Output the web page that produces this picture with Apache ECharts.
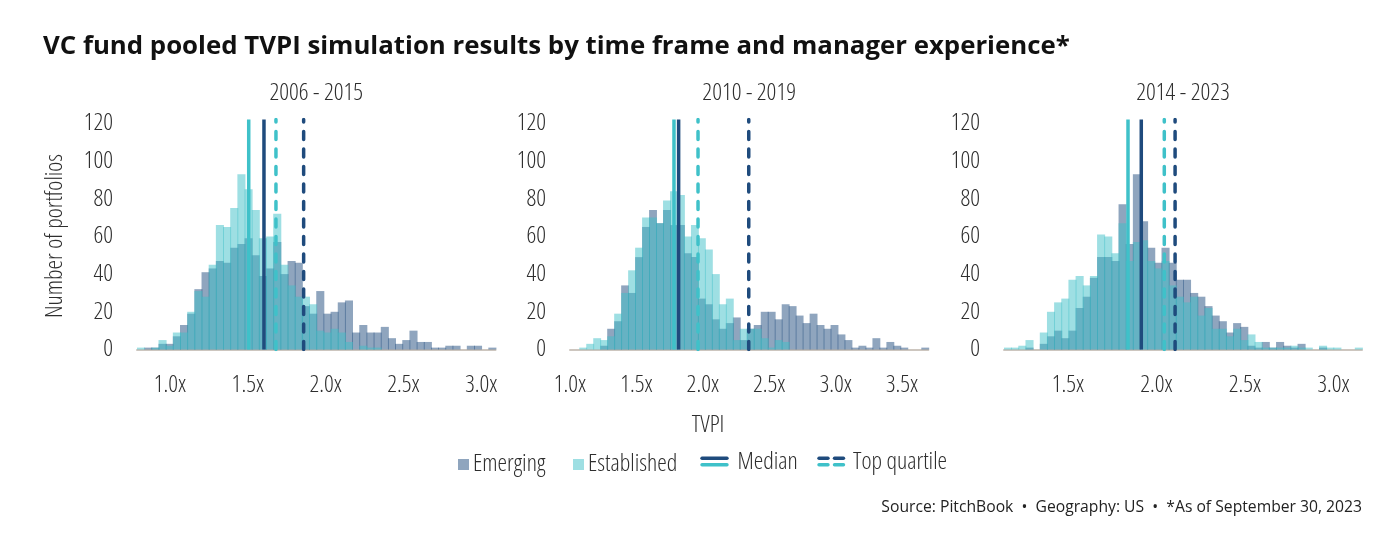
<!DOCTYPE html>
<html>
<head>
<meta charset="utf-8">
<script src="https://cdn.jsdelivr.net/npm/echarts@6/dist/echarts.min.js"></script>
<style>
html,body{margin:0;padding:0;background:#fff;}
#chart{width:1400px;height:548px;}
</style>
</head>
<body>
<div id="chart"></div>
<script>
// ---------- data ----------
const chartTitle = 'VC fund pooled TVPI simulation results by time frame and manager experience*';
const panelTitles = ['2006 - 2015', '2010 - 2019', '2014 - 2023'];
const sourceText = 'Source: PitchBook  \u2022  Geography: US  \u2022  *As of September 30, 2023';
const seriesNames = ['Emerging', 'Established', 'Median', 'Top quartile'];
const yAxisName = 'Number of portfolios';
const xAxisName = 'TVPI';
const yTicks = [0, 20, 40, 60, 80, 100, 120];
const xTicks1 = [1.0, 1.5, 2.0, 2.5, 3.0];
const xTicks2 = [1.0, 1.5, 2.0, 2.5, 3.0, 3.5];
const xTicks3 = [1.5, 2.0, 2.5, 3.0];

// histogram bins: first bin start (TVPI) and bin width (TVPI)
const binStart = [0.788, 1.0173, 1.1384];
const binWidth = [0.04608, 0.05256, 0.04045];
const xRange = [[0.788, 3.092], [1.0, 3.698], [1.1384, 3.161]];

// counts (number of portfolios per bin)
const emerging1 = [0,1,1,3,3,7,13,19,32,41,43,47,46,54,56,59,50,39,43,57,40,47,46,23,19,31,19,20,25,26,9,13,9,9,12,6,3,5,10,4,4,1,1,2,2,0,2,2,0,1];
const established1 = [1,0,1,5,2,9,9,20,31,28,45,66,65,75,93,85,74,59,60,72,45,34,28,28,24,10,9,11,9,4,0,2,1,1,0,0,0,0,0,0,0,0,0,0,0,0,0,0,0,0];
const emerging2 = [0,0,0,0,2,11,15,34,30,49,65,74,67,74,66,66,51,49,27,24,16,11,14,17,5,11,13,20,20,16,24,23,18,14,19,13,11,13,8,5,1,2,1,6,1,4,2,1,0,0,1];
const established2 = [0,1,3,6,5,7,19,30,42,54,70,70,67,79,84,82,60,66,59,53,40,24,27,5,11,11,11,6,1,5,4,0,0,0,0,0,0,0,0,0,0,0,0,0,0,0,0,0,0,0,0];
const emerging3 = [0,0,0,1,0,3,7,10,6,10,22,28,38,49,49,47,77,56,93,68,54,46,54,46,37,37,30,28,23,18,15,9,14,12,2,1,4,1,4,2,1,3,0,0,1,0,0,0,0,0];
const established3 = [1,1,2,5,0,9,20,25,27,37,39,34,39,61,60,51,67,47,57,58,47,43,47,34,28,25,28,18,22,11,11,7,11,5,8,4,1,1,1,1,2,1,1,0,2,1,1,0,0,1];

// median and top-quartile TVPI
const medianEmerging = [1.604, 1.818, 1.914];
const medianEstablished = [1.506, 1.783, 1.839];
const topQuartileEmerging = [1.859, 2.346, 2.105];
const topQuartileEstablished = [1.681, 1.964, 2.044];

// ---------- styles ----------
const NAVY = '#1f4b7d';
const CYAN = '#3fc1c9';
const EM_FILL = 'rgba(31,75,125,0.5)';
const ES_FILL = 'rgba(61,191,199,0.5)';
const FS = 24;
const CONDFONT = "condensed 300 " + FS + "px 'Open Sans', sans-serif";
const TXT = '#2e2e2e';
const condLabel = { fontStyle: 'condensed', fontWeight: 300, fontFamily: "'Open Sans', sans-serif", fontSize: FS, color: TXT };

const gridLeft = [137, 570, 1004];
const gridWidth = [358.5, 358.3, 358];
const xTicks = [xTicks1, xTicks2, xTicks3];
const emergingAll = [emerging1, emerging2, emerging3];
const establishedAll = [established1, established2, established3];

function toBins(counts, p) {
  return counts.map((c, i) => [binStart[p] + i * binWidth[p], binStart[p] + (i + 1) * binWidth[p], c]);
}

function renderBar(params, api) {
  const x0 = api.value(0), x1 = api.value(1), v = api.value(2);
  if (!v) return null;
  const a = api.coord([x0, v]);
  const b = api.coord([x1, 0]);
  return {
    type: 'rect',
    shape: { x: a[0], y: a[1], width: b[0] - a[0] + 0.9, height: b[1] - a[1] },
    style: { fill: api.visual('color') }
  };
}

const grids = [], xAxes = [], yAxes = [], series = [];
for (let p = 0; p < 3; p++) {
  grids.push({ left: gridLeft[p], width: gridWidth[p], top: 119.5, height: 230 });
  xAxes.push({
    type: 'value', gridIndex: p, min: xRange[p][0], max: xRange[p][1],
    axisLine: { show: true, lineStyle: { color: '#cdc6bf', width: 2 } },
    axisTick: { show: false },
    splitLine: { show: false },
    axisLabel: Object.assign({ customValues: xTicks[p], margin: 24, formatter: v => v.toFixed(1) + 'x' }, condLabel)
  });
  yAxes.push({
    type: 'value', gridIndex: p, min: 0, max: 122,
    axisLine: { show: false }, axisTick: { show: false }, splitLine: { show: false },
    axisLabel: Object.assign({ customValues: yTicks, margin: 24 }, condLabel)
  });
  series.push({
    name: seriesNames[0], type: 'custom', xAxisIndex: p, yAxisIndex: p,
    renderItem: renderBar, itemStyle: { color: EM_FILL },
    encode: { x: [0, 1], y: 2 }, data: toBins(emergingAll[p], p), z: 2, silent: true
  });
  series.push({
    name: seriesNames[1], type: 'custom', xAxisIndex: p, yAxisIndex: p,
    renderItem: renderBar, itemStyle: { color: ES_FILL },
    encode: { x: [0, 1], y: 2 }, data: toBins(establishedAll[p], p), z: 3, silent: true
  });
  const lines = [
    [topQuartileEmerging[p], NAVY, 'dash'],
    [topQuartileEstablished[p], CYAN, 'dash'],
    [medianEmerging[p], NAVY, 'solid'],
    [medianEstablished[p], CYAN, 'solid']
  ];
  lines.forEach((l, k) => {
    series.push({
      name: l[2] === 'solid' ? seriesNames[2] : seriesNames[3],
      type: 'line', xAxisIndex: p, yAxisIndex: p,
      data: [[l[0], 0], [l[0], 122]],
      showSymbol: false, symbol: 'none', silent: true, z: 5 + k,
      lineStyle: l[2] === 'solid'
        ? { color: l[1], width: 3.5, type: 'solid' }
        : { color: l[1], width: 3.5, type: [8, 9.5], cap: 'round' },
      animation: false
    });
  });
}

const graphics = [
  { type: 'text', x: 43, y: 47, style: { text: chartTitle, font: "bold 25.8px 'Open Sans', sans-serif", fill: '#111', verticalAlign: 'middle' } },
  { type: 'text', x: 55, y: 236, rotation: Math.PI / 2, style: { text: yAxisName, font: CONDFONT, fill: TXT, align: 'center', verticalAlign: 'middle' } },
  { type: 'text', x: 708, y: 425, style: { text: xAxisName, font: CONDFONT, fill: TXT, align: 'center', verticalAlign: 'middle' } },
  { type: 'text', x: 1362, y: 508, style: { text: sourceText, font: "15.7px 'Open Sans', sans-serif", fill: '#222', align: 'right', verticalAlign: 'middle' } },
  // legend
  { type: 'rect', shape: { x: 458, y: 459, width: 11, height: 11 }, style: { fill: EM_FILL } },
  { type: 'text', x: 473, y: 464, style: { text: seriesNames[0], font: CONDFONT, fill: TXT, verticalAlign: 'middle' } },
  { type: 'rect', shape: { x: 573, y: 459, width: 11, height: 11 }, style: { fill: ES_FILL } },
  { type: 'text', x: 588, y: 464, style: { text: seriesNames[1], font: CONDFONT, fill: TXT, verticalAlign: 'middle' } },
  { type: 'line', shape: { x1: 702, y1: 458.3, x2: 727, y2: 458.3 }, style: { stroke: NAVY, lineWidth: 3.4, lineCap: 'round' } },
  { type: 'line', shape: { x1: 702, y1: 464.7, x2: 727, y2: 464.7 }, style: { stroke: CYAN, lineWidth: 3.4, lineCap: 'round' } },
  { type: 'text', x: 737.5, y: 462, style: { text: seriesNames[2], font: CONDFONT, fill: TXT, verticalAlign: 'middle' } },
  { type: 'line', shape: { x1: 819, y1: 458.3, x2: 828, y2: 458.3 }, style: { stroke: NAVY, lineWidth: 3.4, lineCap: 'round' } },
  { type: 'line', shape: { x1: 834.5, y1: 458.3, x2: 843.5, y2: 458.3 }, style: { stroke: NAVY, lineWidth: 3.4, lineCap: 'round' } },
  { type: 'line', shape: { x1: 819, y1: 464.7, x2: 828, y2: 464.7 }, style: { stroke: CYAN, lineWidth: 3.4, lineCap: 'round' } },
  { type: 'line', shape: { x1: 834.5, y1: 464.7, x2: 843.5, y2: 464.7 }, style: { stroke: CYAN, lineWidth: 3.4, lineCap: 'round' } },
  { type: 'text', x: 853, y: 462, style: { text: seriesNames[3], font: CONDFONT, fill: TXT, verticalAlign: 'middle' } }
];
for (let p = 0; p < 3; p++) {
  graphics.push({ type: 'text', x: gridLeft[p] + gridWidth[p] / 2, y: 93, style: { text: panelTitles[p], font: CONDFONT, fill: TXT, align: 'center', verticalAlign: 'middle' } });
}

const chart = echarts.init(document.getElementById('chart'), null, { renderer: 'canvas' });
chart.setOption({
  backgroundColor: '#fff',
  animation: false,
  grid: grids, xAxis: xAxes, yAxis: yAxes, series: series,
  graphic: graphics
});
</script>
</body>
</html>
